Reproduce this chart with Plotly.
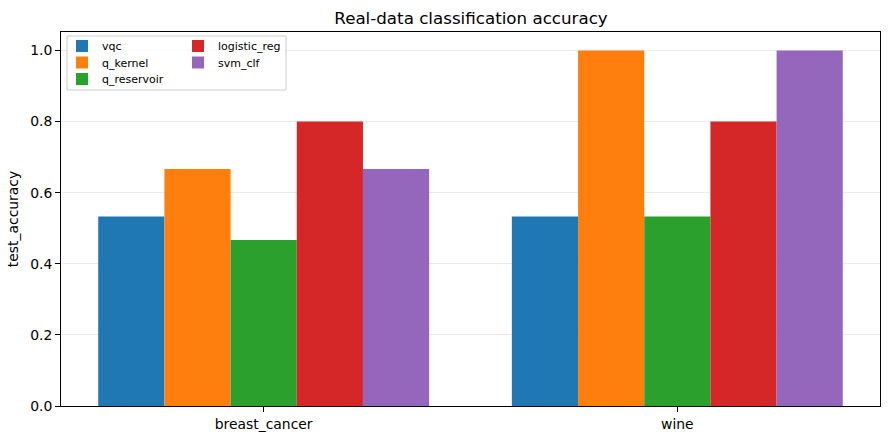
import plotly.graph_objects as go

datasets = ["breast_cancer", "wine"]
models = ["vqc", "q_kernel", "q_reservoir", "logistic_reg", "svm_clf"]
accuracy = {
    "vqc": [0.5333, 0.5333],
    "q_kernel": [0.6667, 1.0],
    "q_reservoir": [0.4667, 0.5333],
    "logistic_reg": [0.8, 0.8],
    "svm_clf": [0.6667, 1.0],
}
colors = ["#1f77b4", "#ff7f0e", "#2ca02c", "#d62728", "#9467bd"]

W, H = 889, 440
L, R, T, B = 61, 9, 32, 34
pw, ph = W - L - R, H - T - B

def px(x):
    return (x - L) / pw

def py(y):
    return (H - B - y) / ph

# legend slot for each model: (column left x, row center y) in pixels
slots = [(62, 46), (62, 62.5), (62, 79), (178, 46), (178, 62.5)]

fig = go.Figure()
legends = {}
for i, (m, c) in enumerate(zip(models, colors)):
    key = f"legend{i + 2}"
    fig.add_trace(go.Bar(x=datasets, y=accuracy[m], name=m, marker_color=c,
                         marker_line_width=0, legend=key))
    sx, sy = slots[i]
    legends[key] = dict(x=px(sx), y=py(sy), xanchor="left", yanchor="middle",
                        bgcolor="rgba(0,0,0,0)", font=dict(size=11),
                        itemwidth=30)

fig.update_layout(
    width=W, height=H,
    margin=dict(l=L, r=R, t=T, b=B),
    plot_bgcolor="white", paper_bgcolor="white",
    font=dict(family="DejaVu Sans", size=13.9, color="black"),
    barmode="group", bargap=0.2, bargroupgap=0,
    title=dict(text="Real-data classification accuracy", x=471 / W, xref="container",
               xanchor="center", y=1 - 18 / H, yanchor="middle",
               font=dict(size=16.7, family="DejaVu Sans")),
    xaxis=dict(range=[-0.49, 1.49], showline=True, linecolor="black", linewidth=1,
               mirror=True, ticks="outside", ticklen=5, tickcolor="black",
               showgrid=False, tickfont=dict(size=13.9)),
    yaxis=dict(range=[0, 1.052], showline=True, linecolor="black", linewidth=1,
               mirror=True, ticks="outside", ticklen=5, tickcolor="black",
               tickvals=[0, 0.2, 0.4, 0.6, 0.8, 1.0],
               ticktext=["0.0", "0.2", "0.4", "0.6", "0.8", "1.0"],
               showgrid=True, gridcolor="#ebebeb", gridwidth=1, zeroline=False,
               title=dict(text="test_accuracy", font=dict(size=13.9), standoff=8),
               tickfont=dict(size=13.9)),
    shapes=[dict(type="rect", xref="paper", yref="paper",
                 x0=px(67), x1=px(286), y0=py(90), y1=py(36),
                 line=dict(color="#cccccc", width=1),
                 fillcolor="rgba(255,255,255,0.8)", layer="above")],
)
fig.update_layout(**legends)
fig.write_html("out.html")
